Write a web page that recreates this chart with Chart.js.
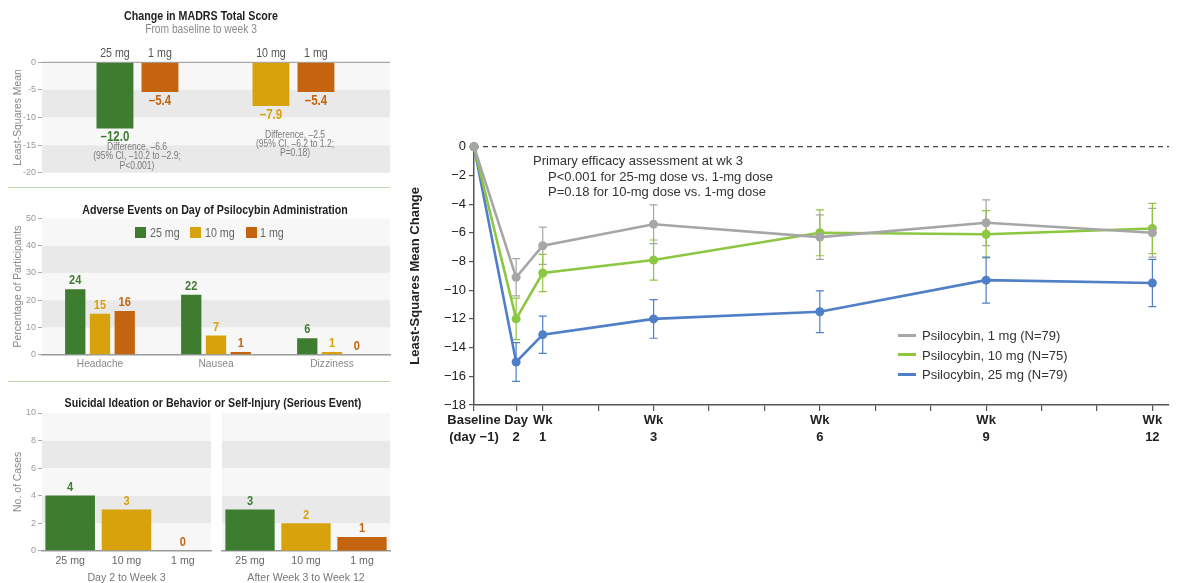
<!DOCTYPE html>
<html>
<head>
<meta charset="utf-8">
<script src="https://cdn.jsdelivr.net/npm/chart.js@4.4.1/dist/chart.umd.min.js"></script>
<style>
  body { margin: 0; background: #fff; }
  #wrap { position: relative; width: 1185px; height: 583px; overflow: hidden; font-family: "Liberation Sans", Arial, sans-serif; }
  canvas { position: absolute; }
  .t { position: absolute; white-space: nowrap; line-height: 1; }
  .c { transform: translate(-50%, -50%); text-align: center; }
  .l { transform: translateY(-50%); }
  .nc { transform: translate(-50%, -50%) scaleX(0.82); text-align: center; }
  .nl { transform: translateY(-50%) scaleX(0.82); transform-origin: left center; }
  .hr { position: absolute; height: 1.5px; background: #b9d3aa; }
  .sq { position: absolute; width: 11px; height: 11px; }
  .sw { position: absolute; width: 18px; height: 3px; }
</style>
</head>
<body>
<div id="wrap">
  <canvas id="madrs" width="395" height="185" style="left:0;top:0"></canvas>
  <canvas id="adverse" width="395" height="190" style="left:0;top:190px"></canvas>
  <canvas id="suicideEarly" width="215" height="193" style="left:0;top:390px"></canvas>
  <canvas id="suicideLate" width="181" height="193" style="left:214px;top:390px"></canvas>
  <canvas id="trend" width="785" height="380" style="left:400px;top:100px"></canvas>

  <div class="t nc" style="left:201px;top:15px;font-size:13px;font-weight:bold;color:#222">Change in MADRS Total Score</div>
  <div class="t nc" style="left:201px;top:28.5px;font-size:12.5px;color:#8a8a8a">From baseline to week 3</div>
  <div class="t nc" style="left:137px;top:156px;font-size:10.4px;color:#7a7a7a;line-height:9.3px">Difference, –6.6<br>(95% CI, –10.2 to –2.9;<br>P&lt;0.001)</div>
  <div class="t nc" style="left:295px;top:143.5px;font-size:10.4px;color:#7a7a7a;line-height:9.3px">Difference, –2.5<br>(95% CI, –6.2 to 1.2;<br>P=0.18)</div>
  <div class="hr" style="left:8px;top:186.5px;width:382px"></div>

  <div class="t nc" style="left:215px;top:209px;font-size:13px;font-weight:bold;color:#222">Adverse Events on Day of Psilocybin Administration</div>
  <div class="sq" style="left:135px;top:227px;background:#3e7d2f"></div>
  <div class="t nl" style="left:150px;top:232px;font-size:13px;color:#666">25 mg</div>
  <div class="sq" style="left:190px;top:227px;background:#d7a20c"></div>
  <div class="t nl" style="left:205px;top:232px;font-size:13px;color:#666">10 mg</div>
  <div class="sq" style="left:246px;top:227px;background:#c5640e"></div>
  <div class="t nl" style="left:260px;top:232px;font-size:13px;color:#666">1 mg</div>
  <div class="hr" style="left:8px;top:380.5px;width:382px"></div>

  <div class="t nc" style="left:213px;top:402px;font-size:13px;font-weight:bold;color:#222">Suicidal Ideation or Behavior or Self-Injury (Serious Event)</div>

  <div class="t l" style="left:533px;top:160px;font-size:13px;color:#333">Primary efficacy assessment at wk 3</div>
  <div class="t l" style="left:548px;top:175.5px;font-size:13px;color:#333">P&lt;0.001 for 25-mg dose vs. 1-mg dose</div>
  <div class="t l" style="left:548px;top:191px;font-size:13px;color:#333">P=0.18 for 10-mg dose vs. 1-mg dose</div>

  <div class="sw" style="left:898px;top:333.5px;background:#a6a6a6"></div>
  <div class="t l" style="left:922px;top:335px;font-size:13px;color:#333">Psilocybin, 1 mg (N=79)</div>
  <div class="sw" style="left:898px;top:353px;background:#8dc641"></div>
  <div class="t l" style="left:922px;top:354.5px;font-size:13px;color:#333">Psilocybin, 10 mg (N=75)</div>
  <div class="sw" style="left:898px;top:372.5px;background:#4f7fc6"></div>
  <div class="t l" style="left:922px;top:374px;font-size:13px;color:#333">Psilocybin, 25 mg (N=79)</div>
</div>

<script>
// colours
const GREEN = '#3e7d2f', YELLOW = '#d7a20c', ORANGE = '#c5640e';
const LIGHT = '#f7f7f7', DARK = '#e9e9e9';
const GRAY_LINE = '#a6a6a6', GREEN_LINE = '#8dc641', BLUE_LINE = '#4f7fc6';
const RF = '"Liberation Sans", Arial, sans-serif';

// change in MADRS, baseline to week 3
const madrsDoses = ['25 mg', '10 mg'];
const madrsActive = [-12.0, -7.9];
const madrsLowDose = [-5.4, -5.4];

// adverse events on dosing day (% of participants)
const aeCategories = ['Headache', 'Nausea', 'Dizziness'];
const ae25 = [24, 22, 6];
const ae10 = [15, 7, 1];
const ae1 = [16, 1, 0];

// suicidal ideation / self-injury cases
const suicideDoses = ['25 mg', '10 mg', '1 mg'];
const suicideEarly = [4, 3, 0];
const suicideLate = [3, 2, 1];

// MADRS over time (least-squares mean change, with error bars)
const timeLabels = [['Baseline', '(day \u22121)'], ['Day', '2'], ['Wk', '1'], ['Wk', '3'], ['Wk', '6'], ['Wk', '9'], ['Wk', '12']];
const timePos = [-0.24, 0.52, 1, 3, 6, 9, 12];
const mean1 = [0, -9.1, -6.9, -5.4, -6.3, -5.3, -6.0];
const err1 = [0, 1.3, 1.3, 1.35, 1.55, 1.6, 1.7];
const mean10 = [0, -12.0, -8.8, -7.9, -6.0, -6.1, -5.7];
const err10 = [0, 1.45, 1.3, 1.4, 1.6, 1.65, 1.75];
const mean25 = [0, -15.0, -13.1, -12.0, -11.5, -9.3, -9.5];
const err25 = [0, 1.35, 1.3, 1.35, 1.45, 1.6, 1.65];

Chart.defaults.font.family = RF;
Chart.defaults.animation = false;

// condensed-looking text on the canvas
function narrowText(ctx, txt, x, y) {
  ctx.save();
  ctx.translate(x, y);
  ctx.scale(0.82, 1);
  ctx.fillText(txt, 0, 0);
  ctx.restore();
}

// alternating horizontal bands behind the bars
const bands = {
  id: 'bands',
  beforeDraw(chart, args, o) {
    const { ctx, chartArea: a, scales: { y } } = chart;
    ctx.save();
    let i = 0;
    for (let v = y.min; v < y.max - 1e-9; v += o.step, i++) {
      const p1 = y.getPixelForValue(v), p2 = y.getPixelForValue(v + o.step);
      ctx.fillStyle = (i % 2 === 0) === o.firstDark ? DARK : LIGHT;
      ctx.fillRect(a.left, Math.min(p1, p2), a.right - a.left, Math.abs(p2 - p1));
    }
    ctx.restore();
  }
};

const zeroLine = {
  id: 'zeroLine',
  beforeDatasetsDraw(chart, args, o) {
    const { ctx, chartArea: a, scales: { y } } = chart;
    const py = y.getPixelForValue(0);
    ctx.save();
    ctx.strokeStyle = o.color;
    ctx.lineWidth = o.width;
    ctx.setLineDash(o.dash || []);
    ctx.beginPath();
    ctx.moveTo(a.left, py);
    ctx.lineTo(a.right, py);
    ctx.stroke();
    ctx.restore();
  }
};

// value labels on bars (+ dose names over the top for the MADRS panel)
const barLabels = {
  id: 'barLabels',
  afterDatasetsDraw(chart, args, o) {
    const ctx = chart.ctx;
    ctx.save();
    ctx.textAlign = 'center';
    chart.data.datasets.forEach((ds, i) => {
      chart.getDatasetMeta(i).data.forEach((bar, j) => {
        const d = ds.data[j];
        const v = typeof d === 'object' ? d.y : d;
        const txt = (v < 0 ? '\u2013' : '') + Math.abs(v).toFixed(o.decimals || 0);
        ctx.fillStyle = Array.isArray(ds.backgroundColor) ? ds.backgroundColor[j] : ds.backgroundColor;
        ctx.font = 'bold ' + o.size + 'px ' + RF;
        if (v < 0) {
          ctx.textBaseline = 'top';
          narrowText(ctx, txt, bar.x, bar.y + o.gap);
        } else {
          ctx.textBaseline = 'bottom';
          narrowText(ctx, txt, bar.x, bar.y - o.gap);
        }
        if (ds.topLabels) {
          ctx.fillStyle = '#555';
          ctx.font = '13px ' + RF;
          ctx.textBaseline = 'bottom';
          narrowText(ctx, ds.topLabels[j], bar.x, chart.chartArea.top - 2);
        }
      });
    });
    ctx.restore();
  }
};

const errorBars = {
  id: 'errorBars',
  beforeDatasetsDraw(chart) {
    const { ctx, scales: { x, y } } = chart;
    ctx.save();
    ctx.lineWidth = 1.2;
    chart.data.datasets.forEach(ds => {
      ctx.strokeStyle = ds.borderColor;
      ds.data.forEach((p, i) => {
        const e = ds.errors[i];
        if (!e) return;
        const px = x.getPixelForValue(p.x);
        const y1 = y.getPixelForValue(p.y + e), y2 = y.getPixelForValue(p.y - e);
        ctx.beginPath();
        ctx.moveTo(px, y1); ctx.lineTo(px, y2);
        ctx.moveTo(px - 4, y1); ctx.lineTo(px + 4, y1);
        ctx.moveTo(px - 4, y2); ctx.lineTo(px + 4, y2);
        ctx.stroke();
      });
    });
    ctx.restore();
  }
};

function leftY(min, max, step, title) {
  return {
    min: min, max: max,
    ticks: { stepSize: step, color: '#999', font: { size: 9 }, padding: 2 },
    grid: { drawOnChartArea: false, tickLength: 4, color: '#aaa' },
    border: { display: false },
    title: { display: true, text: title, color: '#888', font: { size: 10.4 }, padding: { top: 11.5 } },
    afterFit: s => { s.width = 42; }
  };
}

const noTips = { legend: { display: false }, tooltip: { enabled: false } };

// MADRS panel
new Chart(document.getElementById('madrs'), {
  type: 'bar',
  data: {
    datasets: [
      {
        data: madrsActive.map((v, i) => ({ x: i + 1, y: v })),
        backgroundColor: [GREEN, YELLOW],
        topLabels: madrsDoses
      },
      {
        data: madrsLowDose.map((v, i) => ({ x: i + 1, y: v })),
        backgroundColor: ORANGE,
        topLabels: madrsDoses.map(() => '1 mg')
      }
    ]
  },
  plugins: [bands, zeroLine, barLabels],
  options: {
    responsive: false, devicePixelRatio: 1,
    layout: { padding: { top: 62.3, right: 5, bottom: 12.3, left: 0 } },
    datasets: { bar: { categoryPercentage: 0.577, barPercentage: 0.82 } },
    plugins: Object.assign({
      bands: { step: 5, firstDark: true },
      zeroLine: { color: '#a8a8a8', width: 1.3 },
      barLabels: { size: 14, gap: 2, decimals: 1 }
    }, noTips),
    scales: {
      x: {
        type: 'linear', display: false, offset: false, min: 0.388, max: 2.619,
        grid: { offset: false },
        afterBuildTicks: s => { s.ticks = madrsDoses.map((d, i) => ({ value: i + 1 })); }
      },
      y: leftY(-20, 0, 5, 'Least-Squares Mean')
    }
  }
});

// adverse events panel
new Chart(document.getElementById('adverse'), {
  type: 'bar',
  data: {
    labels: aeCategories,
    datasets: [
      { label: '25 mg', data: ae25, backgroundColor: GREEN },
      { label: '10 mg', data: ae10, backgroundColor: YELLOW },
      { label: '1 mg', data: ae1, backgroundColor: ORANGE }
    ]
  },
  plugins: [bands, barLabels],
  options: {
    responsive: false, devicePixelRatio: 1,
    layout: { padding: { top: 28.3, right: 5, bottom: 0, left: 0 } },
    datasets: { bar: { categoryPercentage: 0.64, barPercentage: 0.82 } },
    plugins: Object.assign({
      bands: { step: 10, firstDark: false },
      barLabels: { size: 13.5, gap: 2 }
    }, noTips),
    scales: {
      x: {
        ticks: { color: '#888', font: { size: 10.2 }, padding: 3 },
        grid: { display: false, drawTicks: false },
        border: { color: '#9a9a9a', width: 1.5 },
        afterFit: s => { s.height = 25.3; }
      },
      y: leftY(0, 50, 10, 'Percentage of Participants')
    }
  }
});

// suicidality panels
function suicideChart(id, values, groupTitle, showY, pad) {
  return new Chart(document.getElementById(id), {
    type: 'bar',
    data: {
      labels: suicideDoses,
      datasets: [{ data: values, backgroundColor: [GREEN, YELLOW, ORANGE] }]
    },
    plugins: [bands, barLabels],
    options: {
      responsive: false, devicePixelRatio: 1,
      layout: { padding: pad },
      datasets: { bar: { categoryPercentage: 1, barPercentage: 0.88 } },
      plugins: Object.assign({
        bands: { step: 2, firstDark: false },
        barLabels: { size: 13.5, gap: 1.5 }
      }, noTips),
      scales: {
        x: {
          ticks: { color: '#666', font: { size: 10.6 }, padding: 4.5 },
          grid: { display: false, drawTicks: false },
          border: { color: '#9a9a9a', width: 1.5 },
          title: { display: true, text: groupTitle, color: '#777', font: { size: 10.6, lineHeight: 1 }, padding: 0 },
          afterFit: s => { s.height = 32.3; }
        },
        y: showY ? leftY(0, 10, 2, 'No. of Cases') : { display: false, min: 0, max: 10, ticks: { stepSize: 2 } }
      }
    }
  });
}
suicideChart('suicideEarly', suicideEarly, 'Day 2 to Week 3', true, { top: 23, right: 4, bottom: 0, left: 0 });
suicideChart('suicideLate', suicideLate, 'After Week 3 to Week 12', false, { top: 23, right: 5, bottom: 0, left: 8 });

// MADRS over time
function series(label, means, errs, color) {
  return {
    label: label,
    data: means.map((v, i) => ({ x: timePos[i], y: v })),
    errors: errs,
    borderColor: color,
    backgroundColor: color,
    borderWidth: 2.6,
    pointRadius: 4.5,
    pointBorderWidth: 0,
    tension: 0,
    clip: false
  };
}

const weekTicks = [...new Set(timePos.concat(Array.from({ length: 12 }, (_, i) => i + 1)))].sort((a, b) => a - b);

new Chart(document.getElementById('trend'), {
  type: 'line',
  data: {
    datasets: [
      series('Psilocybin, 1 mg (N=79)', mean1, err1, GRAY_LINE),
      series('Psilocybin, 10 mg (N=75)', mean10, err10, GREEN_LINE),
      series('Psilocybin, 25 mg (N=79)', mean25, err25, BLUE_LINE)
    ]
  },
  plugins: [zeroLine, errorBars],
  options: {
    responsive: false, devicePixelRatio: 1,
    layout: { padding: { top: 46.7, right: 16, bottom: 0, left: 0 } },
    plugins: Object.assign({
      zeroLine: { color: '#444', width: 1.2, dash: [5, 4] }
    }, noTips),
    scales: {
      x: {
        type: 'linear', min: timePos[0], max: 12.3,
        afterBuildTicks: s => { s.ticks = weekTicks.map(v => ({ value: v })); },
        ticks: {
          autoSkip: false, maxRotation: 0, padding: 0, color: '#222',
          font: { size: 13, weight: 'bold', lineHeight: 1.38 },
          callback: v => { const i = timePos.indexOf(v); return i >= 0 ? timeLabels[i] : ''; }
        },
        grid: { drawOnChartArea: false, tickLength: 6, color: '#555', lineWidth: 1.2 },
        border: { color: '#555', width: 1.5 },
        afterFit: s => { s.height = 75; }
      },
      y: {
        min: -18, max: 0,
        ticks: {
          stepSize: 2, padding: 3, color: '#222', font: { size: 13 },
          callback: v => (v < 0 ? '\u2212' : '') + Math.abs(v)
        },
        grid: { drawOnChartArea: false, tickLength: 5, color: '#555', lineWidth: 1.2 },
        border: { color: '#555', width: 1.5 },
        title: {
          display: true, text: 'Least-Squares Mean Change', color: '#222',
          font: { size: 13, weight: 'bold' }, padding: { top: 8 }
        },
        afterFit: s => { s.width = 74; }
      }
    }
  }
});
</script>
</body>
</html>
